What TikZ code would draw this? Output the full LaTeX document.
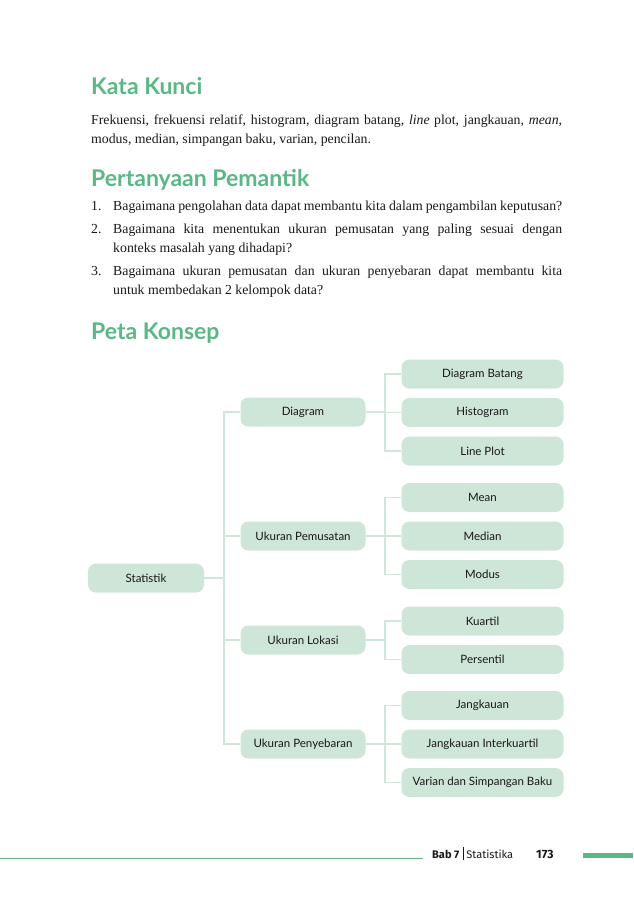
\documentclass[tikz,border=0pt]{standalone}
\usepackage{fontspec}
\setmainfont{Liberation Serif}
\newfontfamily\latofont{Lato}
\newfontfamily\firafont{Fira Sans}
\usetikzlibrary{positioning}

\definecolor{headgreen}{HTML}{5BB784}
\definecolor{boxgreen}{HTML}{CEE6D7}
\definecolor{linkgreen}{HTML}{CFE7D8}
\definecolor{inkgray}{HTML}{1A1718}

\tikzset{
  heading/.style={anchor=base west,inner sep=0pt,text=headgreen,font=\latofont\bfseries\fontsize{23}{28}\selectfont},
  bodytext/.style={anchor=base west,inner sep=0pt,text width=#1,align=justify,text=inkgray,font=\fontsize{13.8}{19}\selectfont},
  itemno/.style={anchor=base west,inner sep=0pt,text=inkgray,font=\fontsize{13.8}{19}\selectfont},
  concept/.style={fill=boxgreen,rounded corners=8pt,minimum height=29pt,minimum width=#1,inner sep=2pt,text=inkgray,font=\latofont\fontsize{11.5}{13}\selectfont},
  link/.style={draw=linkgreen,line width=1.6pt},
}

\begin{document}
\begin{tikzpicture}[x=1pt,y=1pt]
\useasboundingbox (0,0) rectangle (633,-900);
\node[heading] (kk) at (91,-94) {Kata Kunci};
\node[bodytext=471pt] (kktext) at (91,-124) {Frekuensi, frekuensi relatif, histogram, diagram batang, \emph{line} plot, jangkauan, \emph{mean},\linebreak modus, median, simpangan baku, varian, pencilan.};
\node[heading] (pp) at (91,-186) {Pertanyaan Pemantik};
\node[itemno] (n1) at (91,-210) {1.};
\node[bodytext=449pt] (q1) at (113,-210) {Bagaimana pengolahan data dapat membantu kita dalam pengambilan keputusan?};
\node[itemno] (n2) at (91,-233) {2.};
\node[bodytext=449pt] (q2) at (113,-233) {Bagaimana kita menentukan ukuran pemusatan yang paling sesuai dengan\linebreak konteks masalah yang dihadapi?};
\node[itemno] (n3) at (91,-275) {3.};
\node[bodytext=449pt] (q3) at (113,-275) {Bagaimana ukuran pemusatan dan ukuran penyebaran dapat membantu kita\linebreak untuk membedakan 2 kelompok data?};
\node[heading] (pk) at (91,-339) {Peta Konsep};

\node[concept=116pt] (stat) at (146,-578) {Statistik};
\node[concept=125pt] (diag) at (303,-412) {Diagram};
\node[concept=125pt] (pemu) at (303,-536) {Ukuran Pemusatan};
\node[concept=125pt] (loka) at (303,-640) {Ukuran Lokasi};
\node[concept=125pt] (peny) at (303,-744) {Ukuran Penyebaran};
\node[concept=162pt] (batang) at (482.5,-374) {Diagram Batang};
\node[concept=162pt] (histo) at (482.5,-412.5) {Histogram};
\node[concept=162pt] (lplot) at (482.5,-451) {Line Plot};
\node[concept=162pt] (mean) at (482.5,-497.5) {Mean};
\node[concept=162pt] (median) at (482.5,-536) {Median};
\node[concept=162pt] (modus) at (482.5,-574.5) {Modus};
\node[concept=162pt] (kuart) at (482.5,-621) {Kuartil};
\node[concept=162pt] (persen) at (482.5,-659.5) {Persentil};
\node[concept=162pt] (jangk) at (482.5,-705.5) {Jangkauan};
\node[concept=162pt] (jangki) at (482.5,-744) {Jangkauan Interkuartil};
\node[concept=162pt] (varian) at (482.5,-782.5) {Varian dan Simpangan Baku};

\coordinate (trunk) at (224,0);
\coordinate (fork) at (385,0);
\draw[link] (stat.east) -- (trunk |- stat);
\draw[link] (diag.west) -- (trunk |- diag) -- (trunk |- peny) -- (peny.west);
\draw[link] (pemu.west) -- (trunk |- pemu);
\draw[link] (loka.west) -- (trunk |- loka);
\foreach \p/\a/\b in {diag/batang/lplot,pemu/mean/modus,loka/kuart/persen,peny/jangk/varian}
  \draw[link] (\p.east) -- (fork |- \p)
    (\a.west) -- (fork |- \a) -- (fork |- \b) -- (\b.west);
\foreach \c in {histo,median,jangki}
  \draw[link] (\c.west) -- (fork |- \c);

\draw[headgreen,line width=1pt] (0,-858) -- (423,-858);
\node[anchor=base west,inner sep=0pt,text=inkgray,font=\firafont\fontsize{11}{13}\selectfont] (bab) at (432,-858) {\textbf{Bab 7}\hspace{3.5pt}\raisebox{-2pt}{\rule{0.6pt}{13pt}}\hspace{3pt}Statistika};
\node[anchor=base west,inner sep=0pt,text=inkgray,font=\firafont\bfseries\fontsize{12}{14}\selectfont] (hal) at (536,-858) {173};
\fill[headgreen] (583,-853) rectangle (633,-858);
\end{tikzpicture}
\end{document}
